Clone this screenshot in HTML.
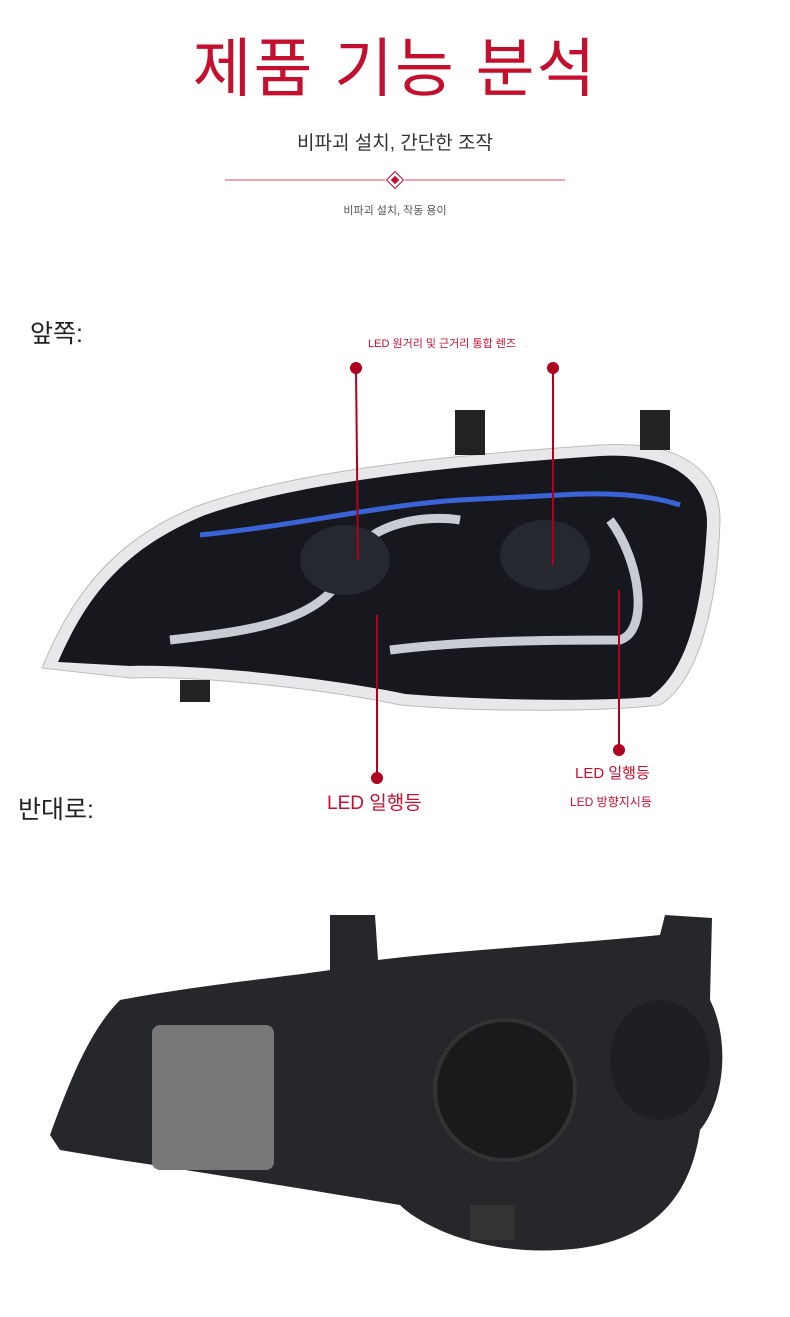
<!DOCTYPE html>
<html><head><meta charset="utf-8"><style>
body{margin:0;background:#fff;width:790px;height:1317px;overflow:hidden;position:relative;font-family:"Liberation Sans","Noto Sans CJK KR",sans-serif}
.t{position:absolute;white-space:nowrap}
</style></head><body>
<div class="t" style="left:0;width:790px;top:18px;text-align:center;font-size:64px;color:#c4102f;letter-spacing:2px">제품 기능 분석</div>
<div class="t" style="left:0;width:790px;top:128px;text-align:center;font-size:19px;color:#333">비파괴 설치, 간단한 조작</div>
<div class="t" style="left:0;width:790px;top:202px;text-align:center;font-size:11px;color:#555">비파괴 설치, 작동 용이</div>
<div class="t" style="left:30px;top:314px;font-size:25px;color:#222">앞쪽:</div>
<div class="t" style="left:18px;top:790px;font-size:25px;color:#222">반대로:</div>
<div class="t" style="left:368px;top:335px;font-size:11px;color:#c4102f">LED 원거리 및 근거리 통합 렌즈</div>
<div class="t" style="left:327px;top:788px;font-size:19px;color:#c4102f">LED 일행등</div>
<div class="t" style="left:575px;top:762px;font-size:15px;color:#c4102f">LED 일행등</div>
<div class="t" style="left:570px;top:793px;font-size:12px;color:#c4102f">LED 방향지시등</div>
<svg width="790" height="1317" style="position:absolute;left:0;top:0">
<line x1="225" y1="180" x2="385" y2="180" stroke="#c4102f" stroke-width="0.8"/>
<line x1="405" y1="180" x2="565" y2="180" stroke="#c4102f" stroke-width="0.8"/>
<rect x="389" y="174" width="12" height="12" transform="rotate(45 395 180)" fill="none" stroke="#c4102f"/>
<rect x="392" y="177" width="6" height="6" transform="rotate(45 395 180)" fill="#c4102f"/>
<path d="M42,668 C70,600 110,540 200,505 C300,470 450,455 600,445 C680,440 720,470 720,520 C718,600 700,680 660,705 C600,712 480,712 400,705 C330,690 200,675 130,678 Z" fill="#e8e8ea" stroke="#bbb"/>
<path d="M58,662 C85,600 120,550 205,515 C300,482 450,466 600,456 C670,452 708,480 707,525 C703,600 690,670 650,697 C590,702 480,700 405,694 C330,678 200,664 130,666 Z" fill="#16181d"/>
<path d="M200,535 C300,525 380,505 460,500 L560,495 C610,492 650,495 680,505" stroke="#3a63d8" stroke-width="5" fill="none"/>
<path d="M170,640 C260,630 330,620 350,560 C370,520 430,515 460,520" stroke="#c9ccd3" stroke-width="9" fill="none"/>
<path d="M390,650 C470,640 560,640 620,640 C650,630 640,560 610,520" stroke="#c9ccd3" stroke-width="9" fill="none"/>
<ellipse cx="345" cy="560" rx="45" ry="35" fill="#25282e"/>
<ellipse cx="545" cy="555" rx="45" ry="35" fill="#25282e"/>
<rect x="455" y="410" width="30" height="45" fill="#222"/>
<rect x="640" y="410" width="30" height="40" fill="#222"/>
<rect x="180" y="680" width="30" height="22" fill="#222"/>
<g stroke="#b00020" stroke-width="2" fill="#b00020">
<line x1="356" y1="368" x2="358" y2="560"/><circle cx="356" cy="368" r="5"/>
<line x1="553" y1="368" x2="553" y2="565"/><circle cx="553" cy="368" r="5"/>
<line x1="377" y1="615" x2="377" y2="778"/><circle cx="377" cy="778" r="5"/>
<line x1="619" y1="590" x2="619" y2="750"/><circle cx="619" cy="750" r="5"/>
</g>
<path d="M50,1135 C70,1080 90,1030 120,1000 C200,985 300,975 330,970 L330,915 L375,915 L378,960 C460,950 560,945 660,935 L665,915 L712,918 L710,1000 C730,1040 725,1100 700,1130 C690,1200 650,1245 560,1250 C480,1255 420,1225 400,1205 C340,1195 220,1175 120,1160 L60,1150 Z" fill="#26272b"/>
<rect x="152" y="1025" width="122" height="145" rx="8" fill="#77777a"/>
<circle cx="505" cy="1090" r="70" fill="#1a1a1d" stroke="#333" stroke-width="4"/>
<ellipse cx="660" cy="1060" rx="50" ry="60" fill="#1e1f22"/>
<rect x="470" y="1205" width="45" height="35" fill="#333"/>
</svg>
</body></html>
